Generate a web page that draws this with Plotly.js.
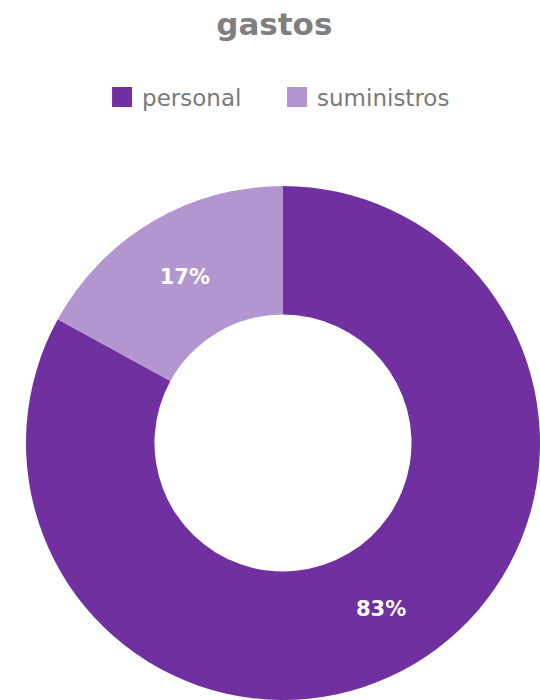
<!DOCTYPE html>
<html>
<head>
<meta charset="utf-8">
<script src="https://cdn.plot.ly/plotly-3.0.1.min.js"></script>
<style>html,body{margin:0;padding:0;background:#fff;}#chart{width:540px;height:700px;}</style>
</head>
<body>
<div id="chart"></div>
<script>
const categories = ["personal", "suministros"];
const values = [83, 17];
const colors = ["#7030A0", "#B395CF"];
const chartTitle = "gastos";

const pieTrace = {
  type: "pie",
  labels: categories,
  values: values,
  marker: {colors: colors, line: {width: 0}},
  hole: 0.5,
  sort: false,
  direction: "clockwise",
  rotation: 0,
  textinfo: "percent",
  texttemplate: "<b>%{percent:.0%}</b>",
  textposition: "inside",
  insidetextorientation: "horizontal",
  insidetextfont: {color: "#ffffff", size: 21, family: "DejaVu Sans"},
  domain: {x: [26/540, 1], y: [0, 514/700]},
  showlegend: false,
  hoverinfo: "none"
};

// legend entries with large square swatches
const legendTraces = categories.map((c, i) => ({
  type: "scatter",
  mode: "markers",
  x: [null], y: [null],
  name: c,
  marker: {symbol: "square", size: 16, color: colors[i], line: {color: colors[i], width: 4}},
  showlegend: true,
  hoverinfo: "none"
}));

const layout = {
  width: 540, height: 700,
  margin: {l: 0, r: 0, t: 0, b: 0},
  paper_bgcolor: "#ffffff",
  plot_bgcolor: "rgba(0,0,0,0)",
  font: {family: "DejaVu Sans", color: "#7f7f7f"},
  xaxis: {visible: false, showgrid: false, zeroline: false},
  yaxis: {visible: false, showgrid: false, zeroline: false},
  title: {
    text: "<b>" + chartTitle + "</b>",
    font: {size: 31, color: "#7f7f7f", family: "DejaVu Sans"},
    x: 0.508, xanchor: "center", y: 1 - 24/700, yanchor: "middle", yref: "container"
  },
  showlegend: true,
  legend: {
    orientation: "h", x: 0.189, xanchor: "left", y: 1 - 97/700, yanchor: "middle",
    font: {size: 23, color: "#7a7a7a", family: "DejaVu Sans"},
    itemsizing: "trace",
    traceorder: "normal",
    entrywidth: 130
  }
};

Plotly.newPlot("chart", [pieTrace].concat(legendTraces), layout, {displayModeBar: false, staticPlot: true});
</script>
</body>
</html>
